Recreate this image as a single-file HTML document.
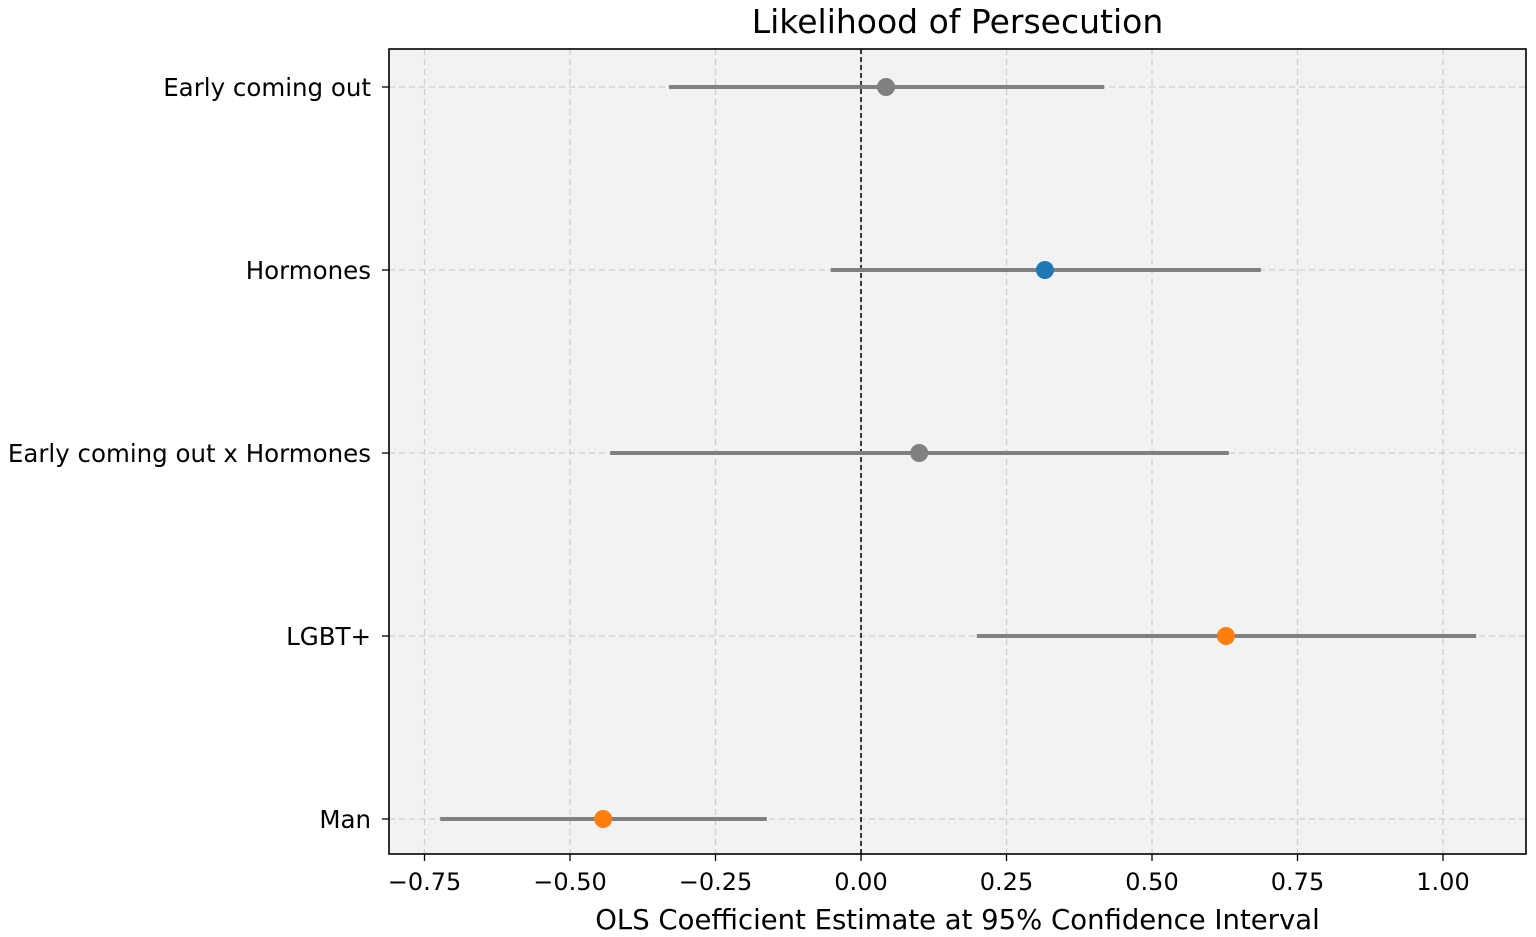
<!DOCTYPE html>
<html><head><meta charset="utf-8"><style>
html,body{margin:0;padding:0;background:#fff;}
svg{display:block;font-family:"DejaVu Sans","Liberation Sans",sans-serif;}
</style></head><body>
<svg id="chart" width="1536" height="937" viewBox="0 0 1536 937" xmlns="http://www.w3.org/2000/svg"></svg>
<script>
const categories = ["Early coming out","Hormones","Early coming out x Hormones","LGBT+","Man"];
const estimates = [0.043,0.316,0.100,0.627,-0.443];
const ciLow = [-0.330,-0.052,-0.431,0.199,-0.723];
const ciHigh = [0.418,0.687,0.632,1.057,-0.162];
const pointColors = ["#808080","#1f77b4","#808080","#ff7f0e","#ff7f0e"];
const xTicks = [-0.75,-0.5,-0.25,0,0.25,0.5,0.75,1.0];
const xTickLabels = ["\u22120.75","\u22120.50","\u22120.25","0.00","0.25","0.50","0.75","1.00"];

const L=389,R=1526,T=49,B=854;
const xMin=-0.811,xMax=1.1426;
const x=v=>L+(v-xMin)/(xMax-xMin)*(R-L);
const y0=87,yStep=183;
const y=i=>y0+i*yStep;
const svg=document.getElementById('chart');
const NS="http://www.w3.org/2000/svg";
function mk(tag,attrs,parent){const e=document.createElementNS(NS,tag);for(const k in attrs)e.setAttribute(k,attrs[k]);(parent||svg).appendChild(e);return e;}

const bg=mk('rect',{x:L,y:T,width:R-L,height:B-T,fill:'#f2f2f2'});



xTicks.forEach((t,i)=>{
  const g=mk('line',{x1:x(t),x2:x(t),y1:T,y2:B,stroke:'#cfcfcf','stroke-width':1.3,'stroke-dasharray':'6,4'});
  
  
  const tk=mk('line',{x1:x(t),x2:x(t),y1:B,y2:B+7,stroke:'#000','stroke-width':1.3});
  
  
  const lb=mk('text',{x:x(t),y:B+36,'text-anchor':'middle','font-size':24,fill:'#000'});
  lb.textContent=xTickLabels[i];
  
  
});
categories.forEach((c,i)=>{
  const g=mk('line',{x1:L,x2:R,y1:y(i),y2:y(i),stroke:'#cfcfcf','stroke-width':1.3,'stroke-dasharray':'6,4'});
  
  
  const tk=mk('line',{x1:L-7,x2:L,y1:y(i),y2:y(i),stroke:'#000','stroke-width':1.3});
  
  
  const lb=mk('text',{x:L-18,y:y(i)+9,'text-anchor':'end','font-size':24.5,fill:'#000'});
  lb.textContent=c;
  
  
});
const zl=mk('line',{x1:x(0),x2:x(0),y1:T,y2:B,stroke:'#000','stroke-width':1.5,'stroke-dasharray':'5,3'});



categories.forEach((c,i)=>{
  const ci=mk('line',{x1:x(ciLow[i]),x2:x(ciHigh[i]),y1:y(i),y2:y(i),stroke:'#808080','stroke-width':4});
  
  
  const p=mk('circle',{cx:x(estimates[i]),cy:y(i),r:9,fill:pointColors[i]});
  
  
});

const fr=mk('rect',{x:L,y:T,width:R-L,height:B-T,fill:'none',stroke:'#000','stroke-width':1.6});


const ti=mk('text',{x:(L+R)/2,y:33,'text-anchor':'middle','font-size':33,fill:'#000'});
ti.textContent='Likelihood of Persecution';


const xl=mk('text',{x:(L+R)/2,y:929,'text-anchor':'middle','font-size':27.5,fill:'#000'});
xl.textContent='OLS Coefficient Estimate at 95% Confidence Interval';


</script>
</body></html>
